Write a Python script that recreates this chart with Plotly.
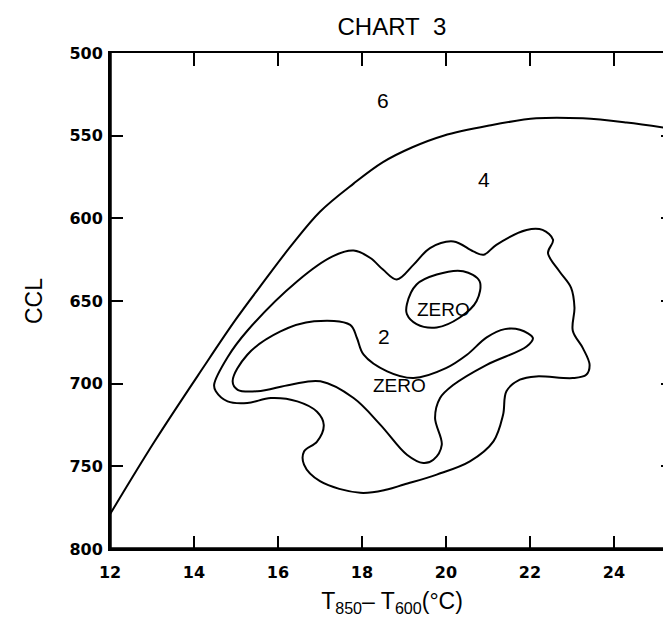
import plotly.graph_objects as go

# ---- data ----
outer_x = [12.0, 13.06, 14.2, 15.0, 15.67, 16.3, 17.0, 17.8, 18.5, 19.2, 19.94, 21.0, 22.15, 23.26, 24.3, 25.43]
outer_y = [779, 735, 691, 661, 638, 617, 596, 579, 566, 557, 550, 544, 539.5, 539.5, 542, 546]

c2_x = [14.48, 14.8, 15.27, 16.46, 17.3, 17.8, 18.2, 18.5, 18.83, 19.23, 19.62, 20.18, 20.65, 20.9, 21.2, 21.92,
        22.3, 22.55, 22.43, 22.7, 22.98, 23.06, 23.02, 23.26, 23.42, 23.34, 23.02, 22.15, 21.76, 21.44, 21.36,
        21.13, 20.57, 19.78, 19.0, 18.6, 17.96, 17.0, 16.62, 16.62, 16.93, 17.09, 16.93, 16.46, 15.83, 15.27,
        14.8, 14.52, 14.48]
c2_y = [700.6, 684, 668, 638, 623, 619.5, 624, 631, 637, 628, 618, 614, 620, 622, 616, 607,
        607, 613, 621, 632, 642, 654, 668, 678.5, 688.6, 694.6, 696.6, 695.6, 697.6, 704.6, 718.8,
        734.9, 747, 755, 761, 764, 766, 759, 749, 741, 735, 725, 717, 710.7, 708.7, 711.7,
        710.7, 704.6, 700.6]

zb_x = [14.92, 15.27, 16.06, 16.86, 17.72, 17.88, 18.04, 18.6, 19.23, 20.0, 20.5, 20.97, 21.4, 21.76, 22.07,
        21.92, 20.97, 20.18, 19.86, 19.74, 19.9, 19.7, 19.46, 19.07, 18.44, 17.8, 17.01, 16.3, 15.51, 15.04, 14.92]
zb_y = [698.6, 682.5, 668.4, 662.3, 664.4, 672.4, 682.5, 692.6, 696.6, 690.6, 682.5, 672, 667, 667.4, 672.4,
        677.5, 688.6, 700.7, 708.7, 720.8, 737, 746, 748, 743, 724.9, 708.7, 698.6, 700.6, 704.6, 703.7, 698.6]

zs_x = [19.07, 19.3, 19.78, 20.41, 20.8, 20.73, 20.33, 19.78, 19.3, 19.07, 19.07]
zs_y = [652, 640, 634, 632, 638, 650, 660, 666, 664, 658, 652]

label_text = ["6", "4", "2", "ZERO", "ZERO"]
label_x = [18.5, 20.9, 18.52, 19.95, 18.9]
label_y = [529, 576.6, 671.4, 655, 701]
label_size = [21, 21, 21, 19, 19]

x_ticks = [12, 14, 16, 18, 20, 22, 24]
y_ticks = [500, 550, 600, 650, 700, 750, 800]

# ---- figure ----
FONT = "Liberation Sans, Arial, sans-serif"
fig = go.Figure()
line = dict(color="black", width=2, shape="spline", smoothing=1.0)
for xs, ys in [(outer_x, outer_y), (c2_x, c2_y), (zb_x, zb_y), (zs_x, zs_y)]:
    fig.add_trace(go.Scatter(x=xs, y=ys, mode="lines", line=line, hoverinfo="skip", showlegend=False))

for t, x, y, s in zip(label_text, label_x, label_y, label_size):
    fig.add_annotation(x=x, y=y, text=t, showarrow=False,
                       font=dict(family=FONT, size=s, color="black"))

# thicker left and bottom frame lines, as in the reference
fig.add_shape(type="line", xref="paper", yref="paper", x0=0, x1=0, y0=0, y1=1,
              line=dict(color="black", width=3.5))
fig.add_shape(type="line", xref="paper", yref="paper", x0=0, x1=1, y0=0, y1=0,
              line=dict(color="black", width=3.5))

fig.update_layout(
    width=671, height=626,
    margin=dict(l=102, r=3, t=45, b=85),
    paper_bgcolor="white", plot_bgcolor="white",
    title=dict(text="CHART\u00a0\u00a03", x=0.5, xref="paper", xanchor="center",
               y=0.984, yref="container", yanchor="top",
               font=dict(family=FONT, size=24, color="black")),
    showlegend=False,
)
axis_common = dict(showline=True, linecolor="black", linewidth=2, mirror="ticks",
                   ticks="inside", ticklen=13, tickwidth=1.5, tickcolor="black",
                   showgrid=False, zeroline=False,
                   tickfont=dict(family="DejaVu Sans, sans-serif", size=16, color="black", weight="bold"))
fig.update_xaxes(range=[12, 25.43], tickvals=x_ticks, ticktext=[str(v) for v in x_ticks],
                 ticklabelstandoff=8,
                 title=dict(text="T<sub>850</sub>\u2013 T<sub>600</sub>(°C)", standoff=12,
                            font=dict(family=FONT, size=23, color="black")),
                 **axis_common)
fig.update_yaxes(range=[800, 500], tickvals=y_ticks, ticktext=[str(v) for v in y_ticks],
                 ticklabelstandoff=2,
                 title=dict(text="CCL", standoff=20,
                            font=dict(family=FONT, size=23, color="black")),
                 **axis_common)

fig.write_html("out.html")
